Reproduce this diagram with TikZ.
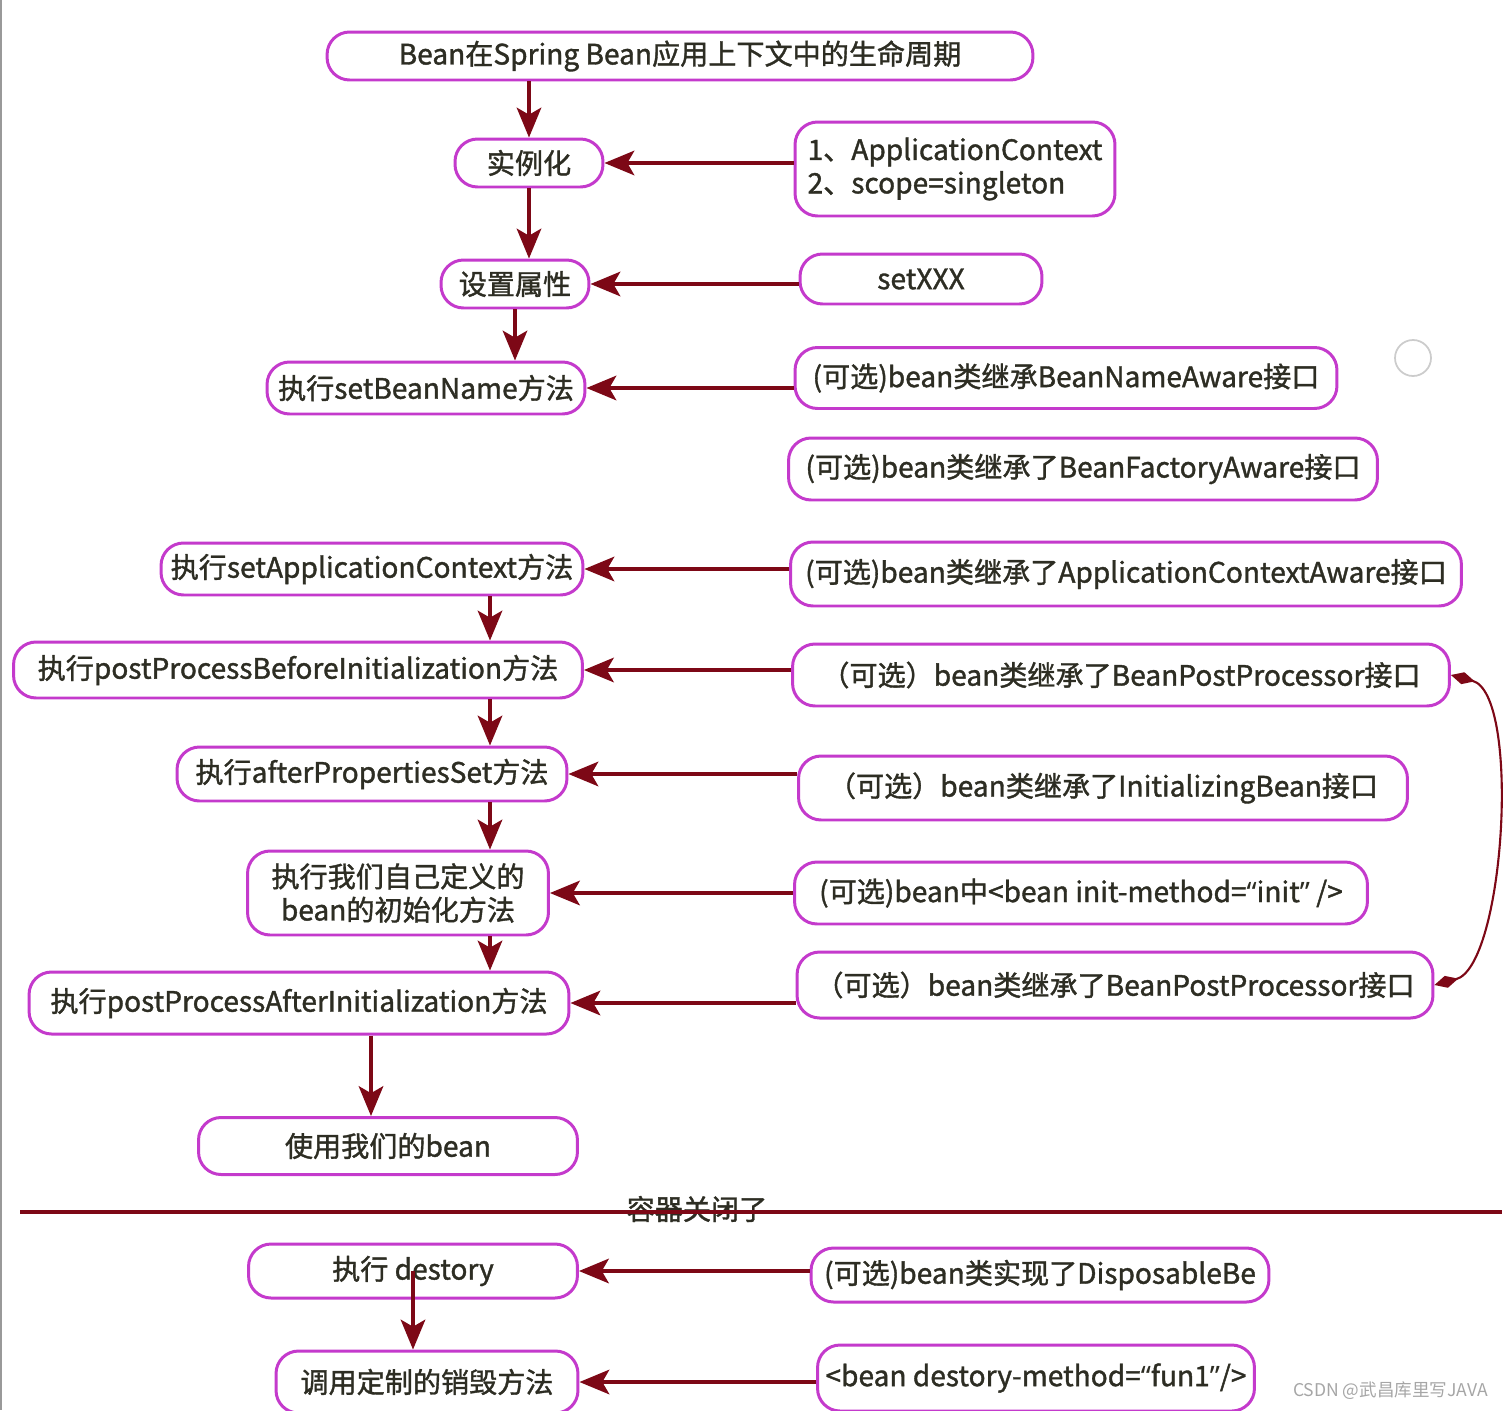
\documentclass[tikz,border=0pt]{standalone}
\usepackage{fontspec}
\setmainfont{Noto Sans CJK SC}[BoldFont=Noto Sans CJK SC,BoldFeatures={FakeBold=1.3}]
\newfontfamily\latinq{Noto Sans}
\usetikzlibrary{arrows.meta}
\definecolor{lifered}{RGB}{125,8,22}
\definecolor{pillpink}{RGB}{196,58,204}
\definecolor{inktext}{RGB}{45,45,35}

\begin{document}
\begin{tikzpicture}[x=0.02cm,y=-0.02cm,
  pill/.style={draw=pillpink,line width=1.7pt,rounded corners=0.45cm,fill=white,
    text=inktext,inner sep=0pt,font=\fontsize{16}{19}\selectfont\bfseries},
  flow/.style={draw=lifered,line width=1.8pt,-{Stealth[length=17pt,width=14pt,inset=4pt]}},
  link/.style={draw=lifered,line width=1.2pt,{Diamond[length=14pt,width=7pt]}-{Diamond[length=14pt,width=7pt]}}]
\useasboundingbox (0,0) rectangle (1508,1410);
\draw[gray!80,line width=1pt] (1,0)--(1,1410);

\node[pill,minimum width=14.12cm,minimum height=0.96cm] (title) at (680,56) {Bean在Spring Bean应用上下文中的生命周期};
\node[pill,minimum width=2.96cm,minimum height=0.96cm] (inst) at (529,163) {实例化};
\node[pill,minimum width=6.4cm,minimum height=1.88cm,align=left] (actx) at (955,169) {1、ApplicationContext\\2、scope=singleton};
\node[pill,minimum width=2.96cm,minimum height=0.96cm] (prop) at (515,284) {设置属性};
\node[pill,minimum width=4.84cm,minimum height=1.0cm] (setx) at (921,279) {setXXX};
\node[pill,minimum width=6.36cm,minimum height=1.04cm] (bname) at (426,388) {执行setBeanName方法};
\node[pill,minimum width=10.84cm,minimum height=1.22cm] (bnaware) at (1066,378) {(可选)bean类继承BeanNameAware接口};
\node[pill,minimum width=11.78cm,minimum height=1.24cm] (bfaware) at (1083,469) {(可选)bean类继承了BeanFactoryAware接口};
\node[pill,minimum width=8.44cm,minimum height=1.04cm] (sactx) at (372,569) {执行setApplicationContext方法};
\node[pill,minimum width=13.42cm,minimum height=1.28cm] (acaware) at (1126,574) {(可选)bean类继承了ApplicationContextAware接口};
\node[pill,minimum width=11.38cm,minimum height=1.12cm] (before) at (298,670) {执行postProcessBeforeInitialization方法};
\node[pill,minimum width=13.14cm,minimum height=1.24cm] (bppone) at (1121,675) {（可选）bean类继承了BeanPostProcessor接口};
\node[pill,minimum width=7.8cm,minimum height=1.08cm] (aprops) at (372,774) {执行afterPropertiesSet方法};
\node[pill,minimum width=12.18cm,minimum height=1.28cm] (ibean) at (1103,788) {（可选）bean类继承了InitializingBean接口};
\node[pill,minimum width=6.02cm,minimum height=1.68cm,align=center] (myinit) at (398,893) {执行我们自己定义的\\bean的初始化方法};
\node[pill,minimum width=11.46cm,minimum height=1.24cm] (initm) at (1081,893) {(可选)bean中<bean init-method={\latinq “}init{\latinq ”} />};
\node[pill,minimum width=10.8cm,minimum height=1.24cm] (after) at (299,1003) {执行postProcessAfterInitialization方法};
\node[pill,minimum width=12.72cm,minimum height=1.32cm] (bpptwo) at (1115,985) {（可选）bean类继承了BeanPostProcessor接口};
\node[pill,minimum width=7.58cm,minimum height=1.14cm] (use) at (388,1146) {使用我们的bean};

\coordinate (col) at (490,0);
\coordinate (usecol) at (371,0);
\draw[flow] (title.south -| inst) -- (inst);
\draw[flow] (inst) -- (inst |- prop.north);
\draw[flow] (prop) -- (prop |- bname.north);
\draw[flow] (sactx.south -| col) -- (before.north -| col);
\draw[flow] (before.south -| col) -- (aprops.north -| col);
\draw[flow] (aprops.south -| col) -- (myinit.north -| col);
\draw[flow] (myinit.south -| col) -- (after.north -| col);
\draw[flow] (after.south -| usecol) -- (use.north -| usecol);

\draw[flow] (actx.west |- inst) -- (inst);
\draw[flow] (setx.west |- prop) -- (prop);
\draw[flow] (bnaware.west |- bname) -- (bname);
\draw[flow] (acaware.west |- sactx) -- (sactx);
\draw[flow] (bppone.west |- before) -- (before);
\draw[flow] (ibean.west |- aprops) -- (aprops);
\draw[flow] (initm.west |- myinit) -- (myinit);
\draw[flow] (bpptwo.west |- after) -- (after);
\draw[link] (bppone.east) to[out=-15,in=15,looseness=0.6] (bpptwo.east);

\node[font=\fontsize{16}{19}\selectfont\bfseries,text=inktext] (closed) at (697,1209) {容器关闭了};
\coordinate (sepl) at (20,1212);
\coordinate (sepr) at (1502,1212);
\draw[lifered,line width=1.8pt] (sepl) -- (sepr);

\node[pill,minimum width=6.58cm,minimum height=1.08cm] (destroy) at (413,1271) {执行 destory};
\node[pill,minimum width=9.16cm,minimum height=1.08cm] (dispose) at (1040,1275) {(可选)bean类实现了DisposableBe};
\node[pill,minimum width=6.04cm,minimum height=1.24cm] (custdestroy) at (427,1382) {调用定制的销毁方法};
\node[pill,minimum width=8.74cm,minimum height=1.32cm] (dmethod) at (1036,1378) {<bean destory-method={\latinq “}fun1{\latinq ”}/>};
\draw[flow] (destroy.center) -- (destroy.center |- custdestroy.north);
\draw[flow] (dispose.west |- destroy) -- (destroy);
\draw[flow] (dmethod.west |- custdestroy) -- (custdestroy);

\draw[gray!40,line width=1pt] (1413,358) circle (18);
\node[text=gray!70,font=\fontsize{10}{12}\selectfont,anchor=east] (mark) at (1494,1391) {CSDN @武昌库里写JAVA};
\end{tikzpicture}
\end{document}
